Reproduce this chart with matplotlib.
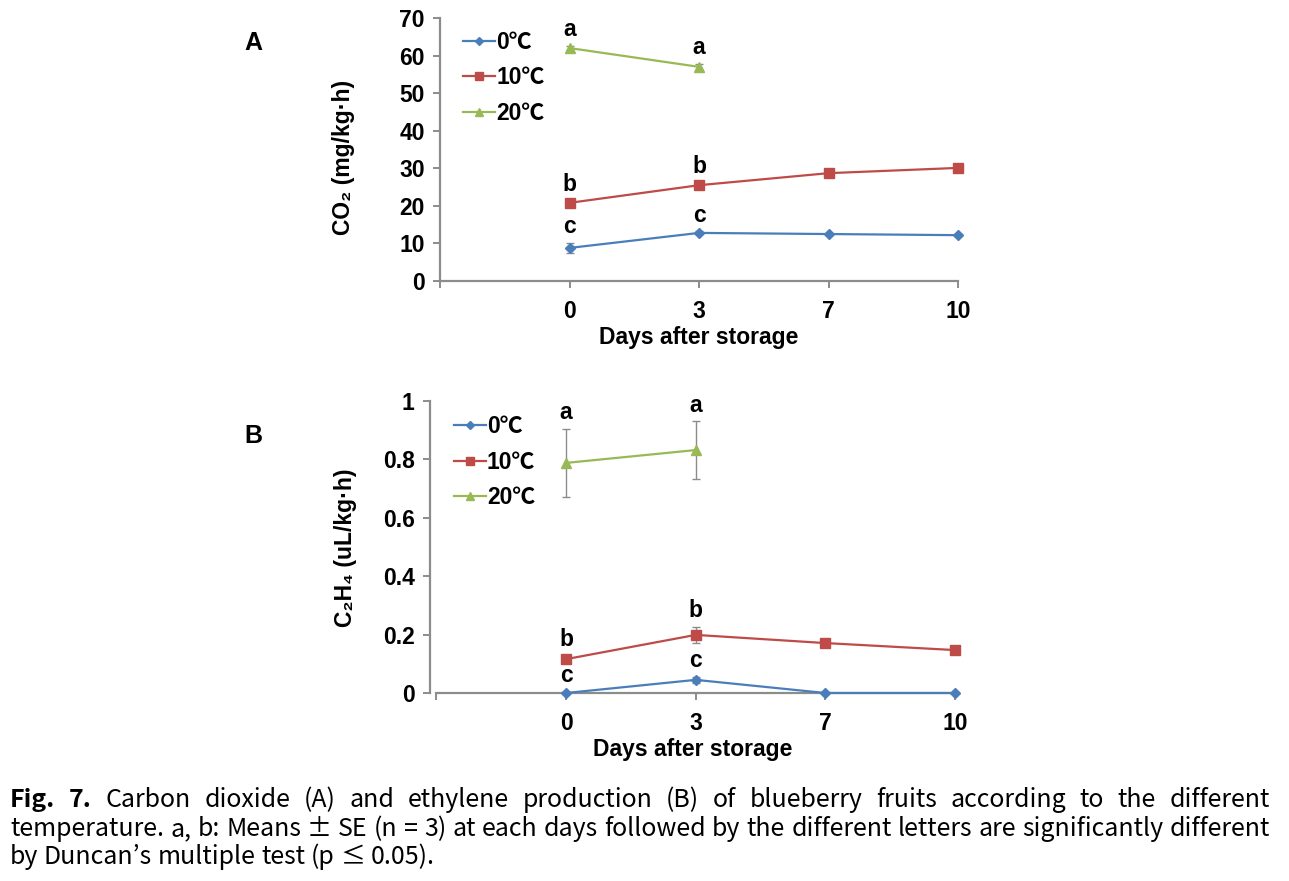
import numpy as np
import matplotlib.pyplot as plt
from matplotlib.lines import Line2D

plt.rcParams['font.family'] = ['Liberation Sans', 'Noto Sans CJK KR', 'DejaVu Sans']

days = ['0', '3', '7', '10']
temps = ['0℃', '10℃', '20℃']
colors = ['#4A7EBB', '#BE4B48', '#98B954']
markers = ['D', 's', '^']
msizes = [5, 7, 7]

# CO2 (mg/kg.h)
co2_0 = [8.8, 12.8, 12.5, 12.2]
co2_10 = [20.8, 25.5, 28.7, 30.1]
co2_20 = [62.0, 57.0]
co2_err_0 = [1.3, 0.4, 0.3, 0.3]
co2_err_10 = [0.5, 0.6, 0.4, 0.3]
co2_err_20 = [0.6, 0.8]
co2_let = [['c', 'c'], ['b', 'b'], ['a', 'a']]

# C2H4 (uL/kg.h)
eth_0 = [0.0, 0.045, 0.0, 0.0]
eth_10 = [0.116, 0.199, 0.171, 0.147]
eth_20 = [0.788, 0.832]
eth_err_0 = [0.004, 0.01, 0.0, 0.0]
eth_err_10 = [0.012, 0.027, 0.005, 0.005]
eth_err_20 = [0.116, 0.098]
eth_let = [['c', 'c'], ['b', 'b'], ['a', 'a']]

W, H = 1289, 881
fig = plt.figure(figsize=(W / 100, H / 100), dpi=100)
# axes boxes from pixel positions
axA = fig.add_axes([440 / W, 1 - 281 / H, 518 / W, 263 / H])
axB = fig.add_axes([430 / W, 1 - 693 / H, 525 / W, 292 / H])


def draw(ax, series, errs, letters, ylim, yticks, ytl, ylabel, xmin, lab_xy):
    x = np.arange(1, 5)
    handles = []
    for i, (s, e) in enumerate(zip(series, errs)):
        xi = x[:len(s)]
        ax.errorbar(xi, s, yerr=e, color=colors[i], marker=markers[i], ms=msizes[i],
                    lw=1.6, ecolor='#8c8c8c', elinewidth=1, capsize=3, capthick=1,
                    clip_on=False, zorder=3)
        handles.append(Line2D([], [], color=colors[i], marker=markers[i],
                              ms=msizes[i] - 1, lw=1.6, label=temps[i]))
        for j, t in enumerate(letters[i]):
            ax.annotate(t, (xi[j], s[j] + e[j]), xytext=(0, 7), textcoords='offset points',
                        ha='center', va='baseline', fontsize=16.5, fontweight='bold')
    ax.set_xlim(xmin, 4)
    ax.set_ylim(*ylim)
    ax.set_xticks(range(5))
    ax.set_xticklabels([''] + days)
    ax.set_yticks(yticks)
    ax.set_yticklabels(ytl)
    for sp in ['top', 'right']:
        ax.spines[sp].set_visible(False)
    for sp in ['left', 'bottom']:
        ax.spines[sp].set_color('#8c8c8c')
        ax.spines[sp].set_linewidth(1.6)
    ax.spines['bottom'].set_bounds(0, 4)
    ax.tick_params(colors='#8c8c8c', length=5, width=1.4, labelcolor='black', labelsize=16.5)
    ax.tick_params(axis='x', pad=9)
    ax.tick_params(axis='y', pad=6)
    for lbl in ax.get_xticklabels() + ax.get_yticklabels():
        lbl.set_fontweight('bold')
    ax.set_xlabel('Days after storage', fontsize=16.5, fontweight='bold', labelpad=2)
    ax.set_ylabel(ylabel, fontsize=16.5, fontweight='bold')
    ax.yaxis.set_label_coords(*lab_xy)
    ax.legend(handles=handles, loc='upper left', bbox_to_anchor=(0.045, 0.952), frameon=False,
              handlelength=1.4, handletextpad=0.05, labelspacing=0.55,
              borderaxespad=0, borderpad=0, numpoints=1, prop={'size': 16.5, 'weight': 'bold'})


draw(axA, [co2_0, co2_10, co2_20], [co2_err_0, co2_err_10, co2_err_20], co2_let,
     (0, 70), range(0, 71, 10), [str(v) for v in range(0, 71, 10)], 'CO₂ (mg/kg·h)',
     0, ((355 - 440) / 518, (281 - 157) / 263))
draw(axB, [eth_0, eth_10, eth_20], [eth_err_0, eth_err_10, eth_err_20], eth_let,
     (0, 1), [0, 0.2, 0.4, 0.6, 0.8, 1.0], ['0', '0.2', '0.4', '0.6', '0.8', '1'],
     'C₂H₄ (uL/kg·h)', -0.05, ((357 - 430) / 525, (693 - 548) / 292))

fig.text(253 / W, 1 - 43 / H, 'A', fontsize=18, fontweight='bold', ha='center', va='center')
fig.text(253 / W, 1 - 436 / H, 'B', fontsize=18, fontweight='bold', ha='center', va='center')

# caption, lines 1-2 justified between x=10 and x=1270
cap_font = ['Noto Sans CJK KR', 'DejaVu Sans']
cap_lines = [
    'Fig. 7. Carbon dioxide (A) and ethylene production (B) of blueberry fruits according to the different',
    'temperature. a, b: Means ± SE (n = 3) at each days followed by the different letters are significantly different',
    'by Duncan’s multiple test (p ≤ 0.05).',
]
cap_y = [800, 829, 857]
cap_justify = [True, True, False]

fig.canvas.draw()
r = fig.canvas.get_renderer()
probe = fig.text(0, 0, cap_lines[1], fontsize=19, family=cap_font)
fs = 19 * 1250 / probe.get_window_extent(r).width
probe.remove()
sp = fig.text(0, 0, 'a a', fontsize=fs, family=cap_font)
sp2 = fig.text(0, 0, 'aa', fontsize=fs, family=cap_font)
space_w = sp.get_window_extent(r).width - sp2.get_window_extent(r).width
sp.remove()
sp2.remove()

for k, line in enumerate(cap_lines):
    words = line.split(' ')
    bold_flags = [k == 0 and i < 2 for i in range(len(words))]
    texts = []
    widths = []
    for w, b in zip(words, bold_flags):
        t = fig.text(0, 1 - cap_y[k] / H, w, fontsize=fs, family=cap_font,
                     fontweight='bold' if b else 'normal', va='center')
        texts.append(t)
        widths.append(t.get_window_extent(r).width)
    if cap_justify[k]:
        gap = (1260 - sum(widths)) / (len(words) - 1)
    else:
        gap = space_w
    xpos = 10
    for t, wd in zip(texts, widths):
        t.set_x(xpos / W)
        xpos += wd + gap

fig.savefig('out.png', dpi=100)
